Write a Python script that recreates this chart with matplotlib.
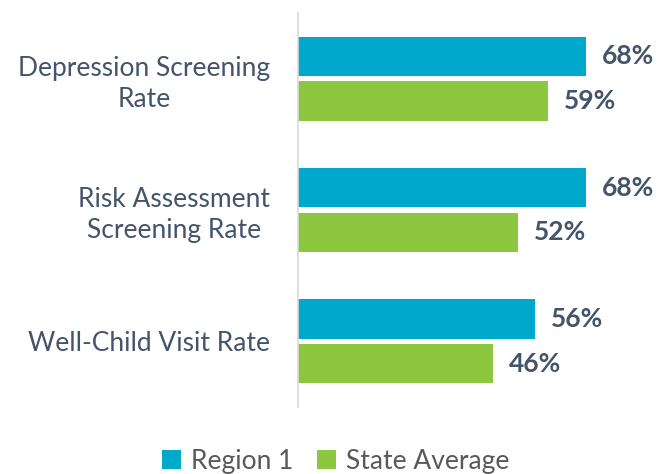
import numpy as np
import matplotlib.pyplot as plt

categories = ["Depression Screening\nRate", "Risk Assessment\nScreening Rate", "Well-Child Visit Rate"]
region1 = [68, 68, 56]
state_avg = [59, 52, 46]
series_names = ["Region 1", "State Average"]

teal = "#00A9CC"
green = "#8DC63F"
text_col = "#44546A"

plt.rcParams['font.family'] = ['Lato', 'DejaVu Sans']

fig = plt.figure(figsize=(6.72, 4.74), dpi=100)
ax = fig.add_axes([298 / 672, 1 - 407 / 474, 1 - 298 / 672, 394 / 474])

y = np.arange(len(categories))
off = 0.171
h = 0.30
b1 = ax.barh(y - off, region1, height=h, color=teal, label=series_names[0])
b2 = ax.barh(y + off, state_avg, height=h, color=green, label=series_names[1])

for yy, v in zip(y - off, region1):
    ax.text(v + 3.8, yy, f"{v}%", va="center", ha="left", fontsize=19,
            fontweight="bold", color=text_col)
for yy, v in zip(y + off, state_avg):
    ax.text(v + 3.8, yy, f"{v}%", va="center", ha="left", fontsize=19,
            fontweight="bold", color=text_col)

ax.set_ylim(len(categories) - 0.5, -0.5)
ax.set_xlim(0, (672 - 298) / 4.23)
ax.set_yticks(y)
ax.set_yticklabels(categories, fontsize=19, color=text_col, multialignment="center",
                   linespacing=1.3)
ax.tick_params(axis="y", length=0, pad=20)
ax.set_xticks([])
for s in ["top", "right", "bottom"]:
    ax.spines[s].set_visible(False)
ax.spines["left"].set_color("#D9D9D9")
ax.spines["left"].set_linewidth(1.2)

fig.legend(handles=[b1, b2], labels=series_names, loc="center", bbox_to_anchor=(336 / 672, 1 - 461 / 474),
           ncol=2, frameon=False, fontsize=19, labelcolor="#595959", handlelength=0.7, handleheight=0.7,
           handletextpad=0.4, columnspacing=0.9)

fig.savefig("out.png", dpi=100)
